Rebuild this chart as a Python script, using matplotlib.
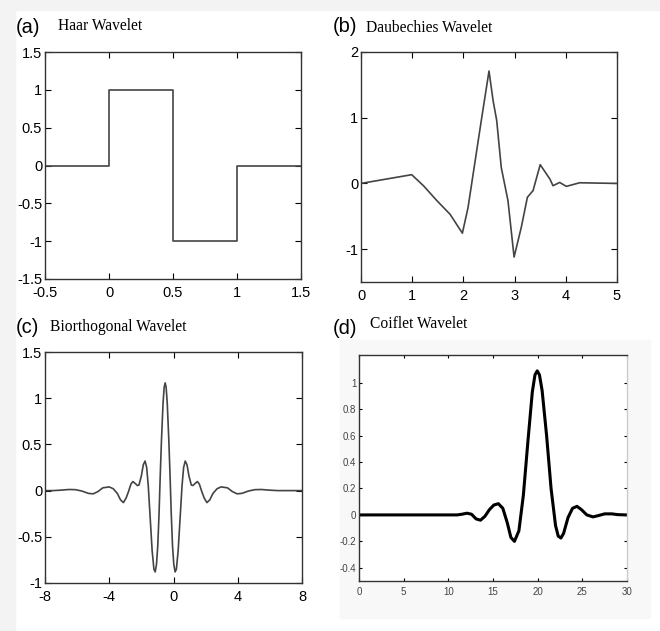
import numpy as np
import matplotlib
matplotlib.use("Agg")
import matplotlib.pyplot as plt
from matplotlib.patches import Rectangle

plt.rcParams['font.family'] = ['Liberation Sans', 'DejaVu Sans']
plt.rcParams['axes.unicode_minus'] = False

W, H = 660, 631

# --- data ---
haar_x = [-0.5, 0, 0, 0.5, 0.5, 1, 1, 1.5]
haar_y = [0, 0, 1, 1, -1, -1, 0, 0]

db_x = [0, 0.99, 1.22, 1.48, 1.74, 1.98, 2.09, 2.26, 2.35, 2.5, 2.58, 2.65, 2.74,
        2.87, 2.99, 3.13, 3.25, 3.36, 3.5, 3.69, 3.75, 3.88, 4.01, 4.27, 5]
db_y = [0, 0.133, -0.035, -0.26, -0.47, -0.757, -0.37, 0.5, 0.96, 1.71, 1.26, 0.96, 0.24,
        -0.26, -1.12, -0.67, -0.21, -0.11, 0.285, 0.066, -0.035, 0.015, -0.045, 0.01, 0]

bior_x = [-8, -7.5, -7.0, -6.5, -6.1, -5.7, -5.3, -5.0, -4.7, -4.4, -4.0, -3.75, -3.5,
          -3.3, -3.12, -2.95, -2.8, -2.65, -2.53, -2.4, -2.25, -2.15, -2.0, -1.88, -1.77,
          -1.67, -1.57, -1.45, -1.33, -1.22, -1.14, -1.06, -0.98, -0.9, -0.83, -0.75,
          -0.65, -0.58, -0.52, -0.46, -0.39, -0.29, -0.21, -0.14, -0.06, 0.02, 0.10,
          0.18, 0.29, 0.41, 0.53, 0.63, 0.73, 0.84, 0.96, 1.11, 1.21, 1.36, 1.49, 1.61,
          1.76, 1.91, 2.08, 2.26, 2.46, 2.71, 2.96, 3.36, 3.66, 3.96, 4.26, 4.66, 5.06,
          5.46, 5.96, 6.5, 8]
bior_y = [0, 0.0, 0.005, 0.012, 0.01, -0.005, -0.03, -0.035, -0.01, 0.03, 0.04, 0.02, -0.03,
          -0.1, -0.13, -0.08, -0.01, 0.07, 0.098, 0.08, 0.055, 0.06, 0.16, 0.28, 0.32,
          0.25, 0.05, -0.3, -0.65, -0.85, -0.88, -0.8, -0.6, -0.25, 0.14, 0.54,
          0.95, 1.12, 1.166, 1.12, 0.95, 0.54, 0.14, -0.25, -0.6, -0.8, -0.88,
          -0.85, -0.65, -0.3, 0.05, 0.25, 0.32, 0.28, 0.16, 0.06, 0.055, 0.08, 0.098, 0.07,
          -0.01, -0.08, -0.13, -0.1, -0.03, 0.02, 0.04, 0.03, -0.01, -0.035, -0.03, -0.005, 0.01,
          0.012, 0.005, 0.0, 0]

coif_x = [0, 11.0, 11.5, 12.1, 12.6, 13.1, 13.6, 14.1, 14.6, 15.1, 15.6, 16.1, 16.6, 17.0,
          17.4, 17.9, 18.4, 18.9, 19.4, 19.7, 19.95, 20.2, 20.5, 21.0, 21.5, 22.0, 22.3,
          22.6, 22.9, 23.4, 23.9, 24.4, 24.9, 25.5, 26.2, 26.8, 27.5, 28.3, 29.0, 30]
coif_y = [0, 0, 0.005, 0.013, 0.005, -0.03, -0.04, -0.01, 0.04, 0.075, 0.085, 0.05, -0.06, -0.17,
          -0.2, -0.12, 0.15, 0.55, 0.93, 1.06, 1.09, 1.06, 0.94, 0.6, 0.2, -0.08, -0.16,
          -0.175, -0.14, -0.02, 0.05, 0.065, 0.04, 0.0, -0.015, -0.005, 0.008, 0.008, 0.002, 0]


def box(l, r, t, b):
    return [l / W, 1 - b / H, (r - l) / W, (b - t) / H]


fig = plt.figure(figsize=(6.6, 6.31), dpi=100)

# faint scan background, kept behind the axes
for xy, w, h, c in [((0, 0), 15 / W, 1, '#f3f3f3'),
                    ((0, 1 - 10 / H), 1, 10 / H, '#f3f3f3'),
                    ((340 / W, 1 - 618 / H), 310 / W, 278 / H, '#f8f8f8')]:
    fig.patches.append(Rectangle(xy, w, h, transform=fig.transFigure,
                                 color=c, zorder=-5))


def style(ax, size=10.5, color='black', tl=4, xpad=5):
    ax.tick_params(direction='in', top=True, right=True, length=tl, width=0.8,
                   labelsize=size, labelcolor=color, pad=2)
    ax.tick_params(axis='x', pad=xpad)
    for s in ax.spines.values():
        s.set_linewidth(1.0)
        s.set_color('#333333')


line_c = '#444444'

ax = fig.add_axes(box(45, 301, 52, 279))
ax.plot(haar_x, haar_y, color=line_c, lw=1.2)
ax.set_xlim(-0.5, 1.5)
ax.set_ylim(-1.5, 1.5)
ax.set_xticks([-0.5, 0, 0.5, 1, 1.5], ['-0.5', '0', '0.5', '1', '1.5'])
ax.set_yticks([-1.5, -1, -0.5, 0, 0.5, 1, 1.5], ['-1.5', '-1', '-0.5', '0', '0.5', '1', '1.5'])
style(ax)

ax = fig.add_axes(box(361, 617, 52, 282))
ax.plot(db_x, db_y, color=line_c, lw=1.2)
ax.set_xlim(0, 5)
ax.set_ylim(-1.5, 2)
ax.set_xticks(range(0, 6))
ax.set_yticks([-1, 0, 1, 2])
style(ax)

ax = fig.add_axes(box(45, 302, 352, 583))
ax.plot(bior_x, bior_y, color=line_c, lw=1.2)
ax.set_xlim(-8, 8)
ax.set_ylim(-1, 1.5)
ax.set_xticks([-8, -4, 0, 4, 8])
ax.set_yticks([-1, -0.5, 0, 0.5, 1, 1.5], ['-1', '-0.5', '0', '0.5', '1', '1.5'])
style(ax)

ax = fig.add_axes(box(359, 627, 355, 581))
ax.plot(coif_x, coif_y, color='black', lw=2.2)
ax.set_xlim(0, 30)
ax.set_ylim(-0.5, 1.21)
ax.set_xticks(range(0, 31, 5))
ax.set_yticks([-0.4, -0.2, 0, 0.2, 0.4, 0.6, 0.8, 1],
              ['-0.4', '-0.2', '0', '0.2', '0.4', '0.6', '0.8', '1'])
style(ax, size=7, color='#444444', tl=2.5, xpad=4)
ax.spines['right'].set_color('#cccccc')

# panel letters and titles
letters = [('(a)', 16, 33), ('(b)', 333, 32), ('(c)', 16, 333), ('(d)', 333, 334)]
titles = [('Haar Wavelet', 58, 30), ('Daubechies Wavelet', 366, 32),
          ('Biorthogonal Wavelet', 50, 331), ('Coiflet Wavelet', 370, 328)]
for s, x, y in letters:
    fig.text(x / W, 1 - y / H, s, fontsize=14.5, va='baseline', ha='left')
for s, x, y in titles:
    fig.text(x / W, 1 - y / H, s, fontsize=11.2, va='baseline', ha='left',
             family='Liberation Serif')

fig.savefig('out.png', dpi=100)
